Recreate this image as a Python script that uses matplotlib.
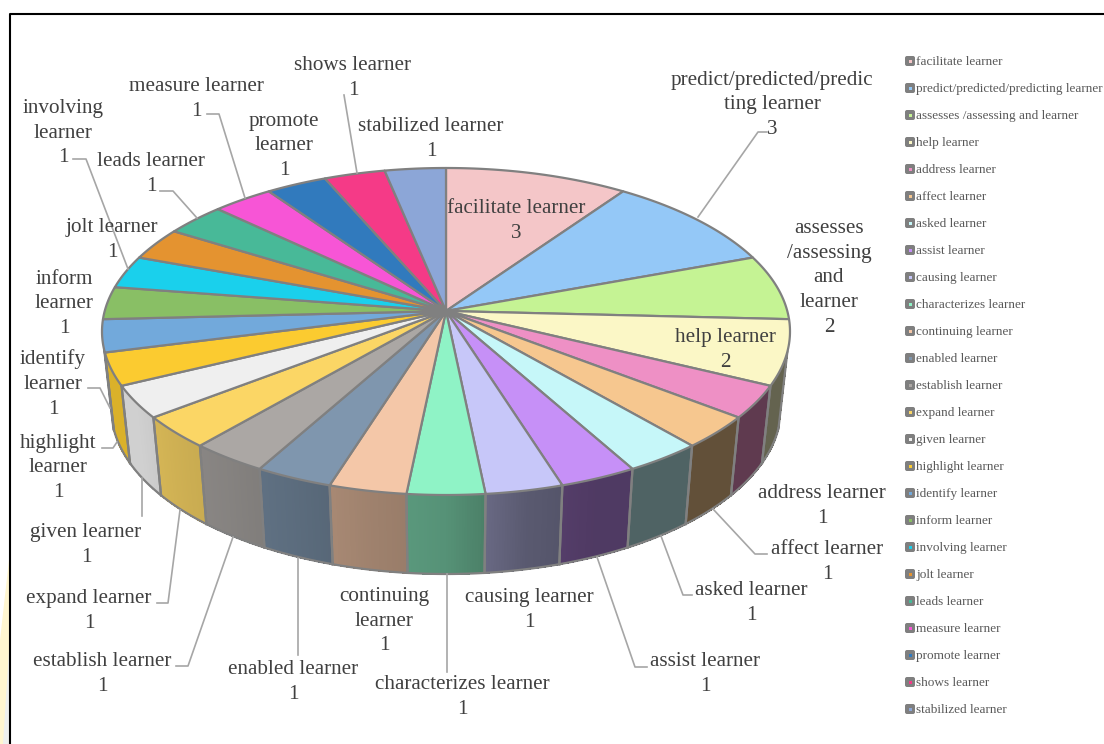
import numpy as np
import matplotlib
matplotlib.use('Agg')
import matplotlib.pyplot as plt
from matplotlib.patches import FancyBboxPatch, Polygon

plt.rcParams['font.family'] = ['Liberation Serif', 'DejaVu Serif']

names = ['facilitate learner', 'predict/predicted/predicting learner', 'assesses /assessing and learner',
         'help learner', 'address learner', 'affect learner', 'asked learner', 'assist learner',
         'causing learner', 'characterizes learner', 'continuing learner', 'enabled learner',
         'establish learner', 'expand learner', 'given learner', 'highlight learner', 'identify learner',
         'inform learner', 'involving learner', 'jolt learner', 'leads learner', 'measure learner',
         'promote learner', 'shows learner', 'stabilized learner']
values = [3, 3, 2, 2, 1, 1, 1, 1, 1, 1, 1, 1, 1, 1, 1, 1, 1, 1, 1, 1, 1, 1, 1, 1, 1]
colors = ['#F4C6C8', '#94C8F7', '#C5F394', '#FBF7C6', '#EE90C5', '#F6C78F', '#C6F7F9', '#C690F7',
          '#C7C7F9', '#8FF3C6', '#F4C7A8', '#7F96AE', '#ABA7A4', '#FBD665', '#EFEFEF', '#FBCB30',
          '#72A9DB', '#89BF65', '#1AD0EC', '#E49330', '#48B998', '#F755D6', '#317ABD', '#F53A87', '#8CA6D7']

# wrapped label text, same order as names
wrapped = ['facilitate learner', 'predict/predicted/predic\nting learner', 'assesses\n/assessing\nand\nlearner',
           'help learner', 'address learner', 'affect learner', 'asked learner', 'assist learner',
           'causing learner', 'characterizes learner', 'continuing\nlearner', 'enabled learner',
           'establish learner', 'expand learner', 'given learner', 'highlight\nlearner', 'identify\nlearner',
           'inform\nlearner', 'involving\nlearner', 'jolt learner', 'leads learner', 'measure learner',
           'promote\nlearner', 'shows learner', 'stabilized learner']
label_x = [516, 772, 829, 725, 822, 827, 751, 705, 529, 462, 384, 293, 102, 89, 86, 58, 53, 64, 63, 112, 151, 196, 284, 353, 431]
label_y = [221, 105, 278, 350, 506, 562, 603, 674, 610, 697, 621, 682, 674, 611, 545, 468, 384, 304, 133, 240, 174, 99, 146, 78, 139]

leaders = [
    [(698, 217), (758, 132), (767, 132)],
    [(713, 509), (755, 554), (767, 554)],
    [(661, 536), (683, 595), (692, 595)],
    [(597, 557), (635, 667), (647, 667)],
    [(447, 574), (447, 672)],
    [(298, 558), (298, 655)],
    [(233, 537), (188, 666), (176, 666)],
    [(180, 510), (168, 603), (157, 603)],
    [(142, 478), (142, 516)],
    [(102, 448), (113, 448), (117, 442)],
    [(88, 388), (100, 388), (110, 408)],
    [(73, 159), (86, 159), (128, 269)],
    [(160, 191), (173, 191), (197, 218)],
    [(207, 114), (219, 114), (245, 198)],
    [(344, 95), (357, 173)],
]

# pie geometry in image pixels
apex = (446, 311)
cx, top_cy, top_a, top_b = 446, 331.5, 344, 163.5
bot_cy, bot_a, bot_b = 408, 335, 166
squash = 0.47

shade_th = [157, 168, 180, 191, 203, 215, 226, 238, 250]
shade_f = [0.40, 0.45, 0.60, 0.65, 0.72, 0.78, 0.82, 0.87, 0.87]


def top_pt(th):
    # ray from the apex out to the top ellipse
    dx, dy = np.sin(th), -squash * np.cos(th)
    ox, oy = apex[0] - cx, apex[1] - top_cy
    A = (dx / top_a) ** 2 + (dy / top_b) ** 2
    B = 2 * (ox * dx / top_a ** 2 + oy * dy / top_b ** 2)
    C = (ox / top_a) ** 2 + (oy / top_b) ** 2 - 1
    s = (-B + np.sqrt(B * B - 4 * A * C)) / (2 * A)
    return apex[0] + s * dx, apex[1] + s * dy


def bot_pt(x, y):
    t = np.arctan2((x - cx) / top_a, (top_cy - y) / top_b)
    return cx + bot_a * np.sin(t), bot_cy - bot_b * np.cos(t)


def mix(c, f):
    return tuple(v * f for v in matplotlib.colors.to_rgb(c))


edge = '#808080'
fig = plt.figure(figsize=(11.04, 7.44), dpi=100)
ax = fig.add_axes([0, 0, 1, 1])
ax.set_xlim(0, 1104)
ax.set_ylim(744, 0)
ax.axis('off')

# pale leftovers of the page outside the frame
ax.add_patch(Polygon([(0, 640), (9, 560), (9, 744), (0, 744)], fc='#FFF6D0', ec='none'))
ax.add_patch(Polygon([(3, 744), (9, 650), (9, 744)], fc='#EEF0EE', ec='none'))
ax.plot([9.5, 9.5, 1104], [744, 13.5, 13.5], color='black', lw=1.5, solid_capstyle='butt')

unit = 2 * np.pi / sum(values)
ends = np.cumsum(values) * unit
starts = ends - np.array(values) * unit

# side wall
t_min = np.radians(96.5)
for a0, a1, col in zip(starts, ends, colors):
    ths = np.linspace(a0, a1, 30)
    xs, ys = top_pt(ths)
    ts = np.arctan2((xs - cx) / top_a, (top_cy - ys) / top_b) % (2 * np.pi)
    keep = (ts > t_min) & (ts < 2 * np.pi - t_min)
    if keep.sum() < 2:
        continue
    xs, ys, th_k = xs[keep], ys[keep], ths[keep]
    bx, by = bot_pt(xs, ys)
    for i in range(len(xs) - 1):
        f = np.interp(np.degrees(th_k[i]), shade_th, shade_f)
        ax.add_patch(Polygon([(xs[i], ys[i]), (xs[i + 1], ys[i + 1]), (bx[i + 1], by[i + 1]), (bx[i], by[i])],
                             fc=mix(col, f), ec=mix(col, f), lw=0.6, antialiased=False, zorder=2))
    ax.plot([xs[0], bx[0]], [ys[0], by[0]], color=edge, lw=1.6, zorder=3)
    ax.plot([xs[-1], bx[-1]], [ys[-1], by[-1]], color=edge, lw=1.6, zorder=3)
    ax.plot(bx, by, color=edge, lw=1.6, zorder=3)

# top surface
for a0, a1, col in zip(starts, ends, colors):
    ths = np.linspace(a0, a1, 40)
    xs, ys = top_pt(ths)
    pts = [apex] + list(zip(xs, ys))
    ax.add_patch(Polygon(pts, fc=col, ec=edge, lw=1.6, joinstyle='round', zorder=4))

# labels and leader lines
for line in leaders:
    ax.plot([p[0] for p in line], [p[1] for p in line], color='#A6A6A6', lw=1.2, zorder=5)
for txt, val, x, y in zip(wrapped, values, label_x, label_y):
    ax.text(x, y, f'{txt}\n{val}', ha='center', va='center', fontsize=15.2, color='#404040',
            linespacing=1.4, zorder=6)

# legend
for i, (name, col) in enumerate(zip(names, colors)):
    y = 61 + 27 * i
    ax.add_patch(FancyBboxPatch((906.5, y - 3.5), 7, 7, boxstyle='round,pad=1.5,rounding_size=2',
                                fc='#7F7F7F', ec='none', zorder=5))
    ax.add_patch(plt.Rectangle((908.5, y - 1.5), 3, 3, fc=col, ec='none', zorder=6))
    ax.text(916, y + 0.8, name, ha='left', va='center', fontsize=9.5, color='#595959', zorder=6)

fig.savefig('out.png', dpi=100)
